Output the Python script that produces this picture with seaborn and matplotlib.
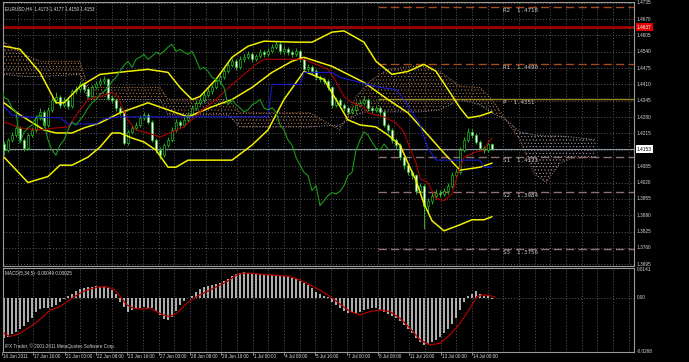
import matplotlib
matplotlib.use("Agg")
import matplotlib.pyplot as plt
import matplotlib.transforms as mtrans
from matplotlib.patches import Rectangle
import numpy as np
import pandas as pd
import seaborn as sns

# ---------------- data ----------------
title_main = "EURUSD,H4  1.4173 1.4177 1.4150 1.4153"
title_macd = "MACD(5,34,5) -0.00049 0.00025"
copyright_txt = "IFX Trader, \u00a9 2001-2011 MetaQuotes Software Corp."

opens = [1.4175,1.4149,1.4189,1.4209,1.4237,1.4189,1.4157,1.4209,1.4229,1.4277,
         1.4301,1.4249,1.4309,1.4350,1.4362,1.4329,1.4350,1.4325,1.4382,1.4390,
         1.4410,1.4390,1.4366,1.4398,1.4410,1.4422,1.4430,1.4358,1.4350,1.4317,
         1.4301,1.4177,1.4221,1.4237,1.4249,1.4277,1.4289,1.4261,1.4189,1.4149,
         1.4129,1.4169,1.4189,1.4229,1.4261,1.4249,1.4269,1.4289,1.4317,1.4337,
         1.4350,1.4370,1.4382,1.4398,1.4422,1.4438,1.4462,1.4486,1.4502,1.4478,
         1.4510,1.4518,1.4530,1.4510,1.4522,1.4538,1.4530,1.4542,1.4558,1.4570,
         1.4542,1.4550,1.4538,1.4530,1.4542,1.4510,1.4470,1.4478,1.4462,1.4438,
         1.4430,1.4422,1.4398,1.4329,1.4350,1.4329,1.4317,1.4301,1.4309,1.4329,
         1.4337,1.4350,1.4317,1.4309,1.4317,1.4301,1.4249,1.4229,1.4189,1.4169,
         1.4121,1.4089,1.4060,1.4048,1.3988,1.4008,1.3928,1.3948,1.3968,1.3980,
         1.3975,1.3985,1.4008,1.4048,1.4060,1.4149,1.4189,1.4221,1.4209,1.4181,
         1.4157,1.4149,1.4173]
highs = [1.4186,1.4198,1.4222,1.4249,1.4245,1.4196,1.4216,1.4241,1.4290,1.4318,
         1.4309,1.4321,1.4362,1.4378,1.4370,1.4361,1.4358,1.4392,1.4405,1.4425,
         1.4418,1.4398,1.4408,1.4422,1.4435,1.4445,1.4436,1.4368,1.4356,1.4325,
         1.4310,1.4230,1.4248,1.4262,1.4290,1.4302,1.4297,1.4268,1.4196,1.4160,
         1.4178,1.4200,1.4240,1.4272,1.4270,1.4280,1.4300,1.4328,1.4349,1.4362,
         1.4382,1.4395,1.4410,1.4434,1.4450,1.4474,1.4498,1.4515,1.4510,1.4522,
         1.4532,1.4543,1.4538,1.4533,1.4550,1.4546,1.4555,1.4570,1.4584,1.4578,
         1.4562,1.4560,1.4547,1.4553,1.4550,1.4518,1.4490,1.4486,1.4470,1.4447,
         1.4440,1.4430,1.4405,1.4362,1.4358,1.4338,1.4325,1.4320,1.4340,1.4350,
         1.4366,1.4358,1.4326,1.4330,1.4325,1.4308,1.4258,1.4236,1.4198,1.4176,
         1.4128,1.4096,1.4070,1.4055,1.4020,1.4015,1.3960,1.3982,1.3995,1.3992,
         1.3998,1.4020,1.4060,1.4075,1.4160,1.4200,1.4236,1.4232,1.4218,1.4190,
         1.4165,1.4186,1.4177]
lows = [1.4130,1.4141,1.4180,1.4201,1.4181,1.4145,1.4150,1.4200,1.4221,1.4268,
        1.4240,1.4241,1.4301,1.4338,1.4318,1.4320,1.4313,1.4318,1.4372,1.4381,
        1.4380,1.4355,1.4360,1.4390,1.4402,1.4412,1.4350,1.4338,1.4305,1.4290,
        1.4168,1.4170,1.4212,1.4228,1.4241,1.4268,1.4252,1.4180,1.4137,1.4115,
        1.4121,1.4160,1.4181,1.4220,1.4238,1.4240,1.4260,1.4280,1.4309,1.4328,
        1.4342,1.4361,1.4372,1.4390,1.4412,1.4430,1.4455,1.4478,1.4468,1.4470,
        1.4500,1.4510,1.4500,1.4502,1.4515,1.4521,1.4522,1.4535,1.4550,1.4533,
        1.4532,1.4528,1.4520,1.4522,1.4500,1.4458,1.4460,1.4450,1.4428,1.4418,
        1.4410,1.4386,1.4318,1.4320,1.4318,1.4305,1.4290,1.4292,1.4300,1.4320,
        1.4328,1.4305,1.4298,1.4300,1.4290,1.4240,1.4218,1.4178,1.4155,1.4110,
        1.4075,1.4048,1.4035,1.3975,1.3978,1.3837,1.3900,1.3935,1.3955,1.3962,
        1.3965,1.3975,1.4000,1.4038,1.4052,1.4140,1.4180,1.4198,1.4172,1.4148,
        1.4138,1.4142,1.4150]
closes = [1.4149,1.4189,1.4209,1.4237,1.4189,1.4157,1.4209,1.4229,1.4277,1.4301,
          1.4249,1.4309,1.4350,1.4362,1.4329,1.4350,1.4325,1.4382,1.4390,1.4410,
          1.4390,1.4366,1.4398,1.4410,1.4422,1.4430,1.4358,1.4350,1.4317,1.4301,
          1.4177,1.4221,1.4237,1.4249,1.4277,1.4289,1.4261,1.4189,1.4149,1.4129,
          1.4169,1.4189,1.4229,1.4261,1.4249,1.4269,1.4289,1.4317,1.4337,1.4350,
          1.4370,1.4382,1.4398,1.4422,1.4438,1.4462,1.4486,1.4502,1.4478,1.4510,
          1.4518,1.4530,1.4510,1.4522,1.4538,1.4530,1.4542,1.4558,1.4570,1.4542,
          1.4550,1.4538,1.4530,1.4542,1.4510,1.4470,1.4478,1.4462,1.4438,1.4430,
          1.4422,1.4398,1.4329,1.4350,1.4329,1.4317,1.4301,1.4309,1.4329,1.4337,
          1.4350,1.4317,1.4309,1.4317,1.4301,1.4249,1.4229,1.4189,1.4169,1.4121,
          1.4089,1.4060,1.4048,1.3988,1.4008,1.3928,1.3948,1.3968,1.3980,1.3975,
          1.3985,1.4008,1.4048,1.4060,1.4149,1.4189,1.4221,1.4209,1.4181,1.4157,
          1.4149,1.4173,1.4153]

# Bollinger bands (bar index, price)
bb_up_idx = [0,4,9,13,15,19,24,31,36,41,44,47,49,53,57,61,65,73,77,82,85,90,93,97,101,105,108,111,114,116,119,122]
bb_up_val = [1.4562,1.4550,1.4458,1.4337,1.4337,1.4402,1.4450,1.4462,1.4470,1.4458,1.4398,1.4350,1.4362,1.4430,1.4518,1.4562,
             1.4582,1.4578,1.4578,1.4618,1.4623,1.4578,1.4502,1.4450,1.4462,1.4490,1.4462,1.4390,1.4317,1.4277,1.4285,1.4301]
bb_mid_idx = [0,4,10,13,17,20,24,29,36,41,46,52,57,62,67,72,75,82,90,96,101,106,110,114,119,122]
bb_mid_val = [1.4337,1.4289,1.4229,1.4217,1.4217,1.4237,1.4257,1.4297,1.4337,1.4309,1.4281,1.4321,1.4350,1.4398,1.4458,1.4502,
              1.4518,1.4482,1.4418,1.4350,1.4297,1.4209,1.4137,1.4069,1.4081,1.4097]
bb_low_idx = [0,6,11,14,17,21,24,27,29,32,35,38,41,43,46,51,57,62,66,70,75,80,83,86,89,93,96,99,101,103,105,107,110,114,117,120,122]
bb_low_val = [1.4121,1.4020,1.4044,1.4089,1.4089,1.4121,1.4161,1.4217,1.4217,1.4197,1.4181,1.4149,1.4081,1.4081,1.4109,1.4109,
              1.4109,1.4169,1.4229,1.4350,1.4462,1.4430,1.4350,1.4269,1.4249,1.4241,1.4209,1.4169,1.4097,1.4028,1.3936,1.3868,
              1.3828,1.3852,1.3872,1.3872,1.3884]

# Ichimoku
tenkan_idx = [0,4,9,13,16,19,21,24,27,28.5,29.5,31,33,36,39,42,45,49,53,57,60,63,65,75,78,81,83,85,87,90,91,95,98,100,101,103,
              104,106,108,110,112,113.5,115,118,120,121,122]
tenkan_val = [1.4261,1.4237,1.4229,1.4237,1.4241,1.4309,1.4350,1.4362,1.4378,1.4362,1.4321,1.4269,1.4229,1.4217,1.4201,1.4221,
              1.4241,1.4301,1.4350,1.4410,1.4450,1.4490,1.4510,1.4510,1.4490,1.4470,1.4422,1.4362,1.4337,1.4321,1.4297,1.4281,
              1.4257,1.4221,1.4177,1.4097,1.4036,1.4020,1.3956,1.3948,1.3976,1.4056,1.4121,1.4141,1.4149,1.4177,1.4197]
kijun_idx = [0,2,5,14,16,23,25,29,66,67,74,75,82,84,89,94,98,100,102,104,106,108,119,120,122]
kijun_val = [1.4321,1.4289,1.4281,1.4277,1.4253,1.4253,1.4273,1.4281,1.4281,1.4410,1.4410,1.4458,1.4458,1.4438,1.4418,1.4398,
             1.4390,1.4350,1.4301,1.4249,1.4157,1.4109,1.4109,1.4081,1.4081]
kumo_idx = [0,5,9,19,21,39,41,56,59,76.5,84,88,92,96,104,109,114,119,122,125.5,129,132.5,135.5,139,142,148]
span_a = [1.4578,1.4530,1.4502,1.4502,1.4398,1.4398,1.4350,1.4350,1.4297,1.4297,1.4229,1.4362,1.4430,1.4470,1.4486,1.4462,
          1.4402,1.4398,1.4350,1.4269,1.4189,1.4056,1.4020,1.4097,1.4117,1.4121]
span_b = [1.4450,1.4442,1.4442,1.4450,1.4350,1.4350,1.4289,1.4289,1.4241,1.4241,1.4249,1.4289,1.4309,1.4301,1.4301,1.4309,
          1.4350,1.4329,1.4297,1.4269,1.4221,1.4209,1.4205,1.4205,1.4201,1.4189]
chikou_shift = 26

# pivots and levels
pivot_names = ["R2", "R1", "P", "S1", "S2", "S3"]
pivot_values = [1.4718, 1.4490, 1.4351, 1.4123, 1.3984, 1.3756]
red_level = 1.4637
bid_price = 1.4153
price_ticks = [1.4735, 1.4670, 1.4605, 1.4540, 1.4475, 1.4410, 1.4345, 1.4280, 1.4215, 1.4150,
               1.4085, 1.4020, 1.3955, 1.3890, 1.3825, 1.3760, 1.3695]

# MACD
macd_hist = [-0.0204,-0.0195,-0.0184,-0.0170,-0.0157,-0.0141,-0.0120,-0.0099,-0.0072,-0.0056,
             -0.0052,-0.0052,-0.0047,-0.0035,-0.0022,-0.0005,0.0012,0.0022,0.0035,0.0044,
             0.0052,0.0057,0.0057,0.0059,0.0057,0.0056,0.0052,0.0040,0.0019,-0.0019,
             -0.0044,-0.0069,-0.0062,-0.0056,-0.0049,-0.0045,-0.0057,-0.0052,-0.0066,-0.0086,
             -0.0106,-0.0111,-0.0096,-0.0066,-0.0035,-0.0015,-0.0002,0.0008,0.0029,0.0044,
             0.0054,0.0059,0.0064,0.0069,0.0076,0.0086,0.0096,0.0109,0.0123,0.0128,
             0.0130,0.0128,0.0125,0.0125,0.0121,0.0120,0.0118,0.0116,0.0116,0.0113,
             0.0109,0.0106,0.0101,0.0096,0.0086,0.0076,0.0064,0.0049,0.0032,0.0019,
             0.0012,0.0003,-0.0019,-0.0035,-0.0049,-0.0066,-0.0077,-0.0072,-0.0079,-0.0069,
             -0.0062,-0.0056,-0.0052,-0.0052,-0.0061,-0.0072,-0.0082,-0.0091,-0.0103,-0.0116,
             -0.0136,-0.0157,-0.0178,-0.0200,-0.0224,-0.0237,-0.0234,-0.0224,-0.0212,-0.0197,
             -0.0178,-0.0157,-0.0133,-0.0099,-0.0061,-0.0022,0.0008,0.0019,0.0035,0.0019,
             0.0012,0.0008,-0.0005]
signal_idx = [0,1.5,4,7.3,9.8,11.5,14,15.7,17.3,19,20.7,23.2,25.7,27.75,29,30.7,32.3,34.4,36.5,38.2,39.8,41.5,43.2,45.7,
              48.2,50.7,53.2,55.7,58.2,59.8,61.5,64,66.5,69,71.5,74,76.5,79,81.5,84,86.5,89,91.5,94,96.5,99,101.5,104,
              106.5,109,111.5,114,116.5,118.2,119.8,121.5,122.75]
signal_val = [-0.0178,-0.0195,-0.0178,-0.0136,-0.0094,-0.0061,-0.0044,-0.0019,0.0002,0.0024,0.0040,0.0054,0.0057,0.0040,
              0.0007,-0.0035,-0.0052,-0.0056,-0.0052,-0.0069,-0.0086,-0.0094,-0.0077,-0.0027,0.0007,0.0032,0.0057,0.0082,
              0.0116,0.0125,0.0125,0.0120,0.0116,0.0113,0.0108,0.0091,0.0066,0.0040,0.0007,-0.0031,-0.0069,-0.0086,-0.0069,
              -0.0061,-0.0069,-0.0103,-0.0153,-0.0212,-0.0237,-0.0229,-0.0187,-0.0128,-0.0052,0.0007,0.0015,0.0012,0.0003]
macd_top, macd_bottom = 0.0141, -0.0268

time_labels = ["16 Jun 2011", "17 Jun 16:00", "21 Jun 00:00", "22 Jun 08:00", "23 Jun 16:00", "27 Jun 00:00",
               "28 Jun 08:00", "29 Jun 16:00", "1 Jul 00:00", "4 Jul 08:00", "5 Jul 16:00", "7 Jul 00:00",
               "8 Jul 08:00", "11 Jul 16:00", "13 Jul 00:00", "14 Jul 08:00"]

# ---------------- layout ----------------
W, H = 689, 362
sns.set_style("dark", {"axes.facecolor": "black", "figure.facecolor": "black"})
plt.rcParams['font.family'] = ['Liberation Sans', 'DejaVu Sans']
plt.rcParams['hatch.linewidth'] = 0.35

fig = plt.figure(figsize=(W / 100, H / 100), dpi=100, facecolor='black')

def box(x0, y0, x1, y1):
    return [x0 / W, 1 - y1 / H, (x1 - x0) / W, (y1 - y0) / H]

PX_L, PX_R = 3, 634
ax = fig.add_axes(box(PX_L, 2, PX_R, 266))
axm = fig.add_axes(box(PX_L, 268, PX_R, 352))

def px2bar(px):
    return (px - 4) / 4.0

XL = (px2bar(PX_L), px2bar(PX_R))
for a in (ax, axm):
    a.set_facecolor('black')
    a.set_xlim(*XL)
    a.set_xticks([]); a.set_yticks([])
    a.grid(False)
    for s in a.spines.values():
        s.set_color('#9a9a9a'); s.set_linewidth(0.8); s.set_visible(True)
ax.set_ylim(1.36881, 1.47378)
axm.set_ylim(-0.0273, 0.0151)

grid_kw = dict(color='#5c5c5c', lw=0.7, ls=(0, (1, 2)), zorder=0)
grid_px = np.arange(2 + 15.67, PX_R, 15.67)
for gx in grid_px:
    ax.axvline(px2bar(gx), **grid_kw)
    axm.axvline(px2bar(gx), **grid_kw)
for p in price_ticks:
    ax.axhline(p, **grid_kw)
axm.axhline(0, **grid_kw)

# ---- Kumo cloud ----
ka = np.array(span_a); kb = np.array(span_b); kx = np.array(kumo_idx)
ax.fill_between(kx, ka, kb, where=ka >= kb, interpolate=True, facecolor='none',
                edgecolor='#c4865a', hatch='.....', lw=0, zorder=1)
ax.fill_between(kx, ka, kb, where=ka < kb, interpolate=True, facecolor='none',
                edgecolor='#b8aab8', hatch='.....', lw=0, zorder=1)
sns.lineplot(x=kumo_idx, y=span_a, ax=ax, color='#b87a50', lw=0.7, ls=':', legend=False, zorder=1)
sns.lineplot(x=kumo_idx, y=span_b, ax=ax, color='#a898a8', lw=0.7, ls=':', legend=False, zorder=1)

# ---- level lines ----
ax.axhline(red_level, color='#a00000', lw=2.0, zorder=2)
ax.axhline(bid_price, color='#8a96a2', lw=0.8, zorder=2)
piv_start = px2bar(378)
piv_colors = ['#a84a20', '#a84a20', '#9a8a20', '#907070', '#907070', '#907070']
for name, val, col in zip(pivot_names, pivot_values, piv_colors):
    ls = '-' if name == 'P' else (0, (6, 3))
    ax.hlines(val, piv_start, XL[1], color=col, lw=1.0, ls=ls, zorder=2)
    ax.text(px2bar(503), val - 0.0004, f"{name}  {val:.4f}", color='#c8c8c8', fontsize=4.2,
            family='DejaVu Sans Mono', va='top', ha='left', zorder=6)

# ---- candles ----
n = len(closes)
for i in range(n):
    o, h, l, c = opens[i], highs[i], lows[i], closes[i]
    ax.vlines(i, l, h, color='#1fb41f', lw=0.7, zorder=3)
    bot, top = min(o, c), max(o, c)
    if top - bot < 0.0003:
        top = bot + 0.0003
    fc = 'white' if c < o else 'black'
    ax.add_patch(Rectangle((i - 0.36, bot), 0.72, top - bot, facecolor=fc, edgecolor='#22cc22',
                           lw=0.45, zorder=3))

# ---- indicator lines ----
sns.lineplot(x=bb_up_idx, y=bb_up_val, ax=ax, color='#f0f000', lw=1.1, legend=False, zorder=4)
sns.lineplot(x=bb_mid_idx, y=bb_mid_val, ax=ax, color='#f0f000', lw=1.1, legend=False, zorder=4)
sns.lineplot(x=bb_low_idx, y=bb_low_val, ax=ax, color='#f0f000', lw=1.1, legend=False, zorder=4)
sns.lineplot(x=tenkan_idx, y=tenkan_val, ax=ax, color='#b00000', lw=0.8, legend=False, zorder=4)
sns.lineplot(x=kijun_idx, y=kijun_val, ax=ax, color='#1a1ad0', lw=0.8, legend=False, zorder=4)
chikou_x = [i - chikou_shift for i in range(n)]
sns.lineplot(x=chikou_x, y=closes, ax=ax, color='#1c9a1c', lw=0.8, legend=False, zorder=4)
ax.set_xlim(*XL); ax.set_ylim(1.36881, 1.47378)
ax.set_xlabel(''); ax.set_ylabel('')

# ---- texts main ----
tr = mtrans.blended_transform_factory(ax.transAxes, ax.transData)
lab_x = 1 + 3.0 / (PX_R - PX_L)
for p in price_ticks:
    if abs(p - bid_price) < 0.001:
        continue
    ax.text(lab_x, p, f"{p:.4f}", transform=tr, color='#d8d8d8', fontsize=3.4, va='center', ha='left',
            clip_on=False)
ax.text(lab_x, red_level, f"{red_level:.4f}", transform=tr, color='white', fontsize=3.4, va='center',
        ha='left', clip_on=False, bbox=dict(boxstyle='square,pad=0.3', fc='#e00000', ec='none'))
ax.text(lab_x, bid_price, f"{bid_price:.4f}", transform=tr, color='black', fontsize=3.4, va='center',
        ha='left', clip_on=False, bbox=dict(boxstyle='square,pad=0.3', fc='white', ec='none'))
ax.text(2 / 631, 1 - 4 / 264, title_main, transform=ax.transAxes, color='#e0e0e0', fontsize=3.3,
        va='top', ha='left')

# ---- MACD ----
axm.vlines(range(n), 0, macd_hist, colors='#d0d0d0', lw=1.2, zorder=2)
sns.lineplot(x=signal_idx, y=signal_val, ax=axm, color='#b00000', lw=0.9, legend=False, zorder=3)
axm.set_xlim(*XL); axm.set_ylim(-0.0273, 0.0151)
axm.set_xlabel(''); axm.set_ylabel('')
trm = mtrans.blended_transform_factory(axm.transAxes, axm.transData)
axm.text(lab_x, macd_top, f"{macd_top:.4f}", transform=trm, color='#d8d8d8', fontsize=3.4, va='center',
         ha='left', clip_on=False)
axm.text(lab_x, 0.0, "0.00", transform=trm, color='#d8d8d8', fontsize=3.4, va='center', ha='left',
         clip_on=False)
axm.text(lab_x, macd_bottom, f"{macd_bottom:.4f}", transform=trm, color='#d8d8d8', fontsize=3.4,
         va='center', ha='left', clip_on=False)
axm.text(2 / 631, 1 - 3 / 84, title_macd, transform=axm.transAxes, color='#e0e0e0', fontsize=3.3,
         va='top', ha='left')
axm.text(2 / 631, 3 / 84, copyright_txt, transform=axm.transAxes, color='#d0d0d0', fontsize=3.3,
         va='bottom', ha='left')

# ---- time axis ----
trx = mtrans.blended_transform_factory(axm.transData, axm.transAxes)
for k, lab in enumerate(time_labels):
    px = 2 + 31.33 * k
    axm.plot([px2bar(px), px2bar(px)], [0, -3 / 84], transform=trx, color='#9a9a9a', lw=0.6,
             clip_on=False)
    axm.text(px2bar(px + 1), -2 / 84, lab, transform=trx, color='#d8d8d8', fontsize=3.3, va='top',
             ha='left', clip_on=False)

fig.savefig("out.png", dpi=100, facecolor='black')
